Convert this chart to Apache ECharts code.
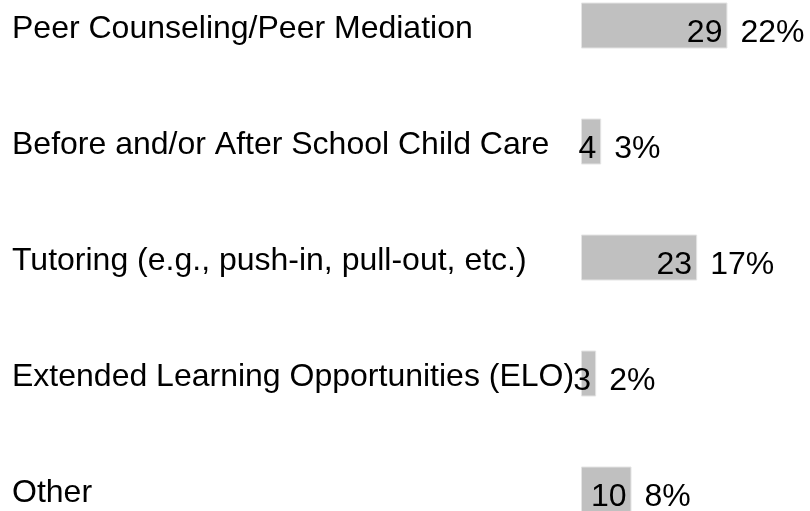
<!DOCTYPE html>
<html><head><meta charset="utf-8">
<script src="https://cdn.jsdelivr.net/npm/echarts@6/dist/echarts.min.js"></script>
<style>html,body{margin:0;padding:0;background:#fff}#c{width:810px;height:511px}</style>
</head><body><div id="c"></div>
<script>
const categories = ['Peer Counseling/Peer Mediation','Before and/or After School Child Care','Tutoring (e.g., push-in, pull-out, etc.)','Extended Learning Opportunities (ELO)','Other'];
const counts = [29, 4, 23, 3, 10];
const percents = ['22%', '3%', '17%', '2%', '8%'];

const font = '"Liberation Sans", Arial, sans-serif';
const chart = echarts.init(document.getElementById('c'), null, {renderer: 'canvas'});
chart.setOption({
  animation: false,
  backgroundColor: '#ffffff',
  grid: {left: 581, right: 77.5, top: -32.5, height: 580, outerBoundsMode: 'none', containLabel: false},
  xAxis: {type: 'value', min: 0, max: 30, show: false},
  yAxis: {
    type: 'category', data: categories, inverse: true,
    axisLine: {show: false}, axisTick: {show: false}, splitLine: {show: false},
    axisLabel: {
      align: 'left', margin: 569, fontSize: 32, color: '#000', fontFamily: font,
      formatter: v => '{c|' + v + '}',
      rich: {c: {fontSize: 32, color: '#000', fontFamily: font, padding: [8, 0, 0, 0]}}
    }
  },
  series: [
    {
      type: 'bar', data: counts, barWidth: 46,
      itemStyle: {color: '#c0c0c0', borderColor: '#e4e4e4', borderWidth: 1},
      label: {show: true, position: 'insideRight', distance: 5, offset: [0, 8], fontSize: 32, color: '#000', fontFamily: font}
    },
    {
      type: 'bar', data: counts, barWidth: 46, barGap: '-100%',
      itemStyle: {color: 'rgba(0,0,0,0)'},
      label: {show: true, position: 'right', distance: 13, offset: [0, 8], fontSize: 32, color: '#000', fontFamily: font,
        formatter: p => percents[p.dataIndex]}
    }
  ]
});
</script></body></html>
